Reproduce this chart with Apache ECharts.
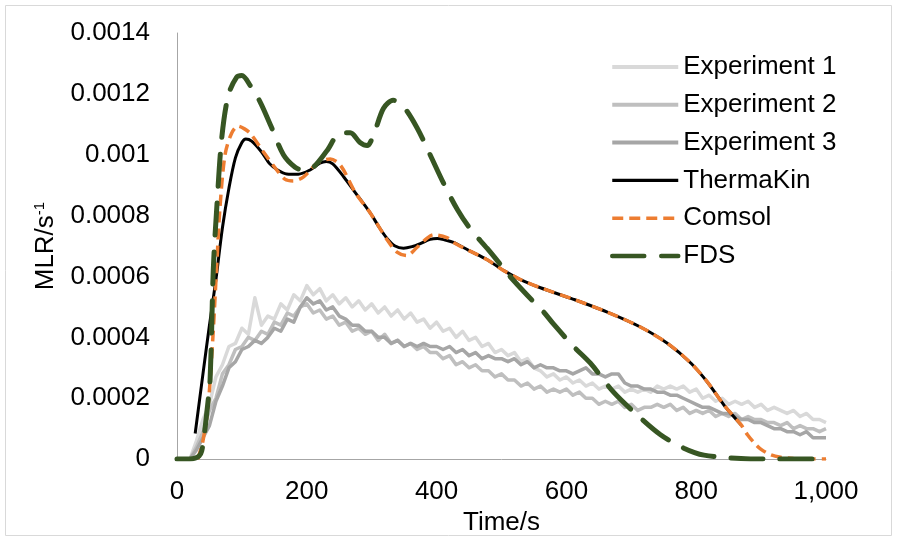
<!DOCTYPE html>
<html>
<head>
<meta charset="utf-8">
<script src="https://cdn.jsdelivr.net/npm/echarts@6/dist/echarts.min.js"></script>
<style>
html,body{margin:0;padding:0;background:#fff;}
#chart{width:897px;height:541px;}
</style>
</head>
<body>
<div id="chart"></div>
<script>
// ---- Data ----
const expTimes = [
  0,10,20,30,40,50,60,70,80,90,
  100,110,120,130,140,150,160,170,180,190,
  200,210,220,230,240,250,260,270,280,290,
  300,310,320,330,340,350,360,370,380,390,
  400,410,420,430,440,450,460,470,480,490,
  500,510,520,530,540,550,560,570,580,590,
  600,610,620,630,640,650,660,670,680,690,
  700,710,720,730,740,750,760,770,780,790,
  800,810,820,830,840,850,860,870,880,890,
  900,910,920,930,940,950,960,970,980,990,
  1000
];
const exp1 = [
  0,0,0,0.6e-4,1.3e-4,1.8e-4,2.7e-4,3.1e-4,3.7e-4,3.8e-4,
  4.3e-4,4.1e-4,5.3e-4,4.4e-4,4.7e-4,4.6e-4,5.1e-4,4.9e-4,5.4e-4,5.2e-4,
  5.7e-4,5.4e-4,5.6e-4,5.2e-4,5.4e-4,5.1e-4,5.3e-4,5.0e-4,5.2e-4,4.9e-4,
  5.1e-4,4.8e-4,5.0e-4,4.7e-4,4.9e-4,4.6e-4,4.8e-4,4.5e-4,4.6e-4,4.3e-4,
  4.5e-4,4.2e-4,4.3e-4,4.0e-4,4.2e-4,3.9e-4,4.0e-4,3.7e-4,3.8e-4,3.5e-4,
  3.6e-4,3.4e-4,3.5e-4,3.2e-4,3.3e-4,3.0e-4,2.9e-4,2.7e-4,2.8e-4,2.6e-4,
  2.7e-4,2.5e-4,2.6e-4,2.4e-4,2.5e-4,2.3e-4,2.4e-4,2.3e-4,2.4e-4,2.2e-4,
  2.3e-4,2.2e-4,2.3e-4,2.2e-4,2.4e-4,2.3e-4,2.4e-4,2.3e-4,2.4e-4,2.2e-4,
  2.3e-4,2.0e-4,2.1e-4,1.9e-4,2.0e-4,1.8e-4,1.9e-4,1.8e-4,1.9e-4,1.7e-4,
  1.8e-4,1.6e-4,1.7e-4,1.6e-4,1.5e-4,1.6e-4,1.4e-4,1.5e-4,1.3e-4,1.3e-4,
  1.2e-4
];
const exp2 = [
  0,0,0,0.4e-4,0.9e-4,1.6e-4,2.0e-4,2.8e-4,3.1e-4,3.6e-4,
  3.7e-4,4.0e-4,3.9e-4,4.2e-4,4.1e-4,4.5e-4,4.4e-4,4.8e-4,4.7e-4,5.0e-4,
  5.1e-4,4.8e-4,4.9e-4,4.6e-4,4.7e-4,4.4e-4,4.5e-4,4.2e-4,4.3e-4,4.1e-4,
  4.2e-4,3.9e-4,4.1e-4,3.8e-4,3.9e-4,3.7e-4,3.8e-4,3.6e-4,3.7e-4,3.5e-4,
  3.5e-4,3.3e-4,3.4e-4,3.1e-4,3.2e-4,3.0e-4,3.1e-4,2.9e-4,2.9e-4,2.7e-4,
  2.8e-4,2.6e-4,2.6e-4,2.4e-4,2.5e-4,2.3e-4,2.4e-4,2.2e-4,2.3e-4,2.2e-4,
  2.3e-4,2.1e-4,2.2e-4,2.0e-4,2.0e-4,1.8e-4,1.9e-4,1.8e-4,1.9e-4,1.7e-4,
  1.8e-4,1.6e-4,1.7e-4,1.7e-4,1.8e-4,1.7e-4,1.8e-4,1.6e-4,1.7e-4,1.5e-4,
  1.6e-4,1.5e-4,1.6e-4,1.4e-4,1.5e-4,1.4e-4,1.5e-4,1.3e-4,1.4e-4,1.3e-4,
  1.3e-4,1.2e-4,1.2e-4,1.1e-4,1.2e-4,1.0e-4,1.1e-4,1.0e-4,1.0e-4,0.9e-4,
  1.0e-4
];
const exp3 = [
  0,0,0,0.3e-4,0.7e-4,1.1e-4,1.9e-4,2.4e-4,3.0e-4,3.2e-4,
  3.6e-4,3.7e-4,3.9e-4,3.8e-4,4.0e-4,4.3e-4,4.2e-4,4.6e-4,4.5e-4,5.0e-4,
  5.3e-4,5.1e-4,5.2e-4,4.9e-4,5.0e-4,4.7e-4,4.6e-4,4.4e-4,4.4e-4,4.2e-4,
  4.2e-4,4.0e-4,4.0e-4,3.8e-4,3.9e-4,3.7e-4,3.8e-4,3.7e-4,3.8e-4,3.7e-4,
  3.7e-4,3.6e-4,3.7e-4,3.5e-4,3.6e-4,3.4e-4,3.5e-4,3.3e-4,3.4e-4,3.3e-4,
  3.3e-4,3.2e-4,3.3e-4,3.1e-4,3.2e-4,3.0e-4,3.1e-4,3.0e-4,3.0e-4,2.9e-4,
  2.9e-4,2.8e-4,2.9e-4,3.0e-4,2.8e-4,2.8e-4,2.7e-4,2.8e-4,2.8e-4,2.5e-4,
  2.4e-4,2.4e-4,2.3e-4,2.3e-4,2.2e-4,2.2e-4,2.1e-4,2.1e-4,2.0e-4,1.9e-4,
  1.8e-4,1.7e-4,1.7e-4,1.6e-4,1.5e-4,1.5e-4,1.4e-4,1.3e-4,1.3e-4,1.2e-4,
  1.2e-4,1.1e-4,1.0e-4,1.0e-4,0.9e-4,0.9e-4,0.8e-4,0.9e-4,0.7e-4,0.7e-4,
  0.7e-4
];

const thermaTimes = [28,40,50,60,70,80,90,100,106,115,130,143,155,169,187,205,220,230,240,257,275,298,312,324,336,349,362,375,390,401,413,426,450,478,503,529,560,611,663,714,756,792,818,843,869];
const thermaVals = [0.84e-4,2.8e-4,4.4e-4,5.9e-4,7.6e-4,8.9e-4,9.9e-4,10.4e-4,10.52e-4,10.45e-4,10.1e-4,9.7e-4,9.5e-4,9.37e-4,9.36e-4,9.5e-4,9.72e-4,9.78e-4,9.7e-4,9.27e-4,8.75e-4,8.08e-4,7.6e-4,7.24e-4,7.0e-4,6.93e-4,6.98e-4,7.08e-4,7.22e-4,7.25e-4,7.2e-4,7.12e-4,6.85e-4,6.55e-4,6.2e-4,5.9e-4,5.63e-4,5.25e-4,4.83e-4,4.34e-4,3.8e-4,3.15e-4,2.51e-4,1.77e-4,1.13e-4];

const comsolTimes = [32,40,48,55,61,66,74,84,94,104,113,133,154,166,179,195,216,236,252,275,298,324,339,354,370,385,395,416,426,450,478,503,529,560,611,663,714,756,792,818,843,869,879,890,900,915,930,950,981,1000];
const comsolVals = [0,0.6e-4,1.77e-4,3.9e-4,6.27e-4,8.2e-4,10.0e-4,10.7e-4,10.94e-4,10.85e-4,10.7e-4,10.1e-4,9.49e-4,9.2e-4,9.14e-4,9.27e-4,9.72e-4,9.86e-4,9.65e-4,8.75e-4,8.08e-4,7.2e-4,6.8e-4,6.69e-4,6.96e-4,7.25e-4,7.37e-4,7.28e-4,7.12e-4,6.85e-4,6.55e-4,6.2e-4,5.9e-4,5.63e-4,5.25e-4,4.83e-4,4.34e-4,3.8e-4,3.15e-4,2.51e-4,1.77e-4,1.13e-4,0.8e-4,0.52e-4,0.32e-4,0.14e-4,0.06e-4,0.02e-4,0,0];

const fdsTimes = [0,20,28,34,38,42,46,51,56,62,69,79,92,100,113,128,144,164,182,195,210,231,252,267,282,293,303,318,333,349,370,390,411,432,452,478,503,509,539,565,580,611,637,673,709,745,781,812,869,920,1000];
const fdsVals = [0,0,0.03e-4,0.1e-4,0.26e-4,0.8e-4,1.55e-4,2.62e-4,6.27e-4,8.5e-4,10.56e-4,11.95e-4,12.55e-4,12.6e-4,12.27e-4,11.74e-4,10.98e-4,10.0e-4,9.59e-4,9.49e-4,9.59e-4,10.13e-4,10.72e-4,10.72e-4,10.4e-4,10.3e-4,10.66e-4,11.52e-4,11.79e-4,11.58e-4,10.88e-4,10.0e-4,9.05e-4,8.2e-4,7.56e-4,6.92e-4,6.27e-4,6.1e-4,5.4e-4,4.83e-4,4.44e-4,3.7e-4,3.15e-4,2.19e-4,1.45e-4,0.8e-4,0.36e-4,0.13e-4,0.02e-4,0,0];

const seriesNames = ['Experiment 1','Experiment 2','Experiment 3','ThermaKin','Comsol','FDS'];
const xTicks = [0,200,400,600,800,1000];
const yTicks = [0,0.0002,0.0004,0.0006,0.0008,0.001,0.0012,0.0014];

// ---- Chart ----
const pairs = (t, v) => t.map((x, i) => [x, v[i]]);
const FONT = '"Liberation Sans", Arial, sans-serif';
const legendWidths = [4, 4, 4, 3.2, 3.5, 4.5];

const chart = echarts.init(document.getElementById('chart'), null, {renderer: 'canvas'});
chart.setOption({
  animation: false,
  backgroundColor: '#fff',
  textStyle: {fontFamily: FONT},
  graphic: [{
    type: 'rect', shape: {x: 5.5, y: 5.5, width: 886, height: 530},
    style: {fill: 'none', stroke: '#D9D9D9', lineWidth: 1}, silent: true, z: -1
  }],
  grid: {left: 177, right: 71, top: 33, bottom: 73, containLabel: false},
  legend: {
    orient: 'vertical', left: 605, top: 48,
    itemWidth: 66, itemHeight: 14, itemGap: 9.8,
    itemStyle: {opacity: 0},
    textStyle: {fontSize: 26, color: '#000', fontFamily: FONT, lineHeight: 28},
    data: seriesNames.map((n, i) => ({name: n, lineStyle: {width: legendWidths[i]}}))
  },
  xAxis: {
    type: 'value', min: xTicks[0], max: xTicks[xTicks.length - 1], interval: 200,
    name: 'Time/s', nameLocation: 'middle', nameGap: 40,
    nameTextStyle: {fontSize: 26, color: '#000', fontFamily: FONT},
    axisLine: {show: true, lineStyle: {color: '#A6A6A6', width: 1}},
    axisTick: {show: false}, splitLine: {show: false},
    axisLabel: {fontSize: 26, color: '#000', margin: 20, fontFamily: FONT,
      formatter: v => v.toLocaleString('en-US')}
  },
  yAxis: {
    type: 'value', min: yTicks[0], max: yTicks[yTicks.length - 1], interval: 0.0002,
    name: 'MLR/s{sup|-1}', nameLocation: 'middle', nameGap: 118, nameRotate: 90,
    nameTextStyle: {fontSize: 26, color: '#000', fontFamily: FONT,
      rich: {sup: {fontSize: 15, color: '#000', verticalAlign: 'top', fontFamily: FONT, padding: [0, 0, 12, 0]}}},
    axisLine: {show: true, lineStyle: {color: '#A6A6A6', width: 1}},
    axisTick: {show: false}, splitLine: {show: false},
    axisLabel: {fontSize: 26, color: '#000', margin: 27, fontFamily: FONT,
      formatter: v => v === 0 ? '0' : v.toFixed(4).replace(/0+$/, '')}
  },
  series: [
    {name: seriesNames[0], type: 'line', data: pairs(expTimes, exp1), showSymbol: false, symbol: 'none',
      lineStyle: {color: '#D9D9D9', width: 3.5, join: 'round'}, itemStyle: {color: '#D9D9D9'}},
    {name: seriesNames[1], type: 'line', data: pairs(expTimes, exp2), showSymbol: false, symbol: 'none',
      lineStyle: {color: '#BFBFBF', width: 3.5, join: 'round'}, itemStyle: {color: '#BFBFBF'}},
    {name: seriesNames[2], type: 'line', data: pairs(expTimes, exp3), showSymbol: false, symbol: 'none',
      lineStyle: {color: '#A6A6A6', width: 3.5, join: 'round'}, itemStyle: {color: '#A6A6A6'}},
    {name: seriesNames[3], type: 'line', data: pairs(thermaTimes, thermaVals), showSymbol: false, symbol: 'none', smooth: 0.3,
      lineStyle: {color: '#000000', width: 3}, itemStyle: {color: '#000000'}},
    {name: seriesNames[4], type: 'line', data: pairs(comsolTimes, comsolVals), showSymbol: false, symbol: 'none', smooth: 0.3,
      lineStyle: {color: '#ED7D31', width: 3.5, type: [11, 6]}, itemStyle: {color: '#ED7D31'}},
    {name: seriesNames[5], type: 'line', data: pairs(fdsTimes, fdsVals), showSymbol: false, symbol: 'none', smooth: 0.3,
      lineStyle: {color: '#375623', width: 5, type: [32, 17], cap: 'round'}, itemStyle: {color: '#375623'}}
  ]
});
</script>
</body>
</html>
